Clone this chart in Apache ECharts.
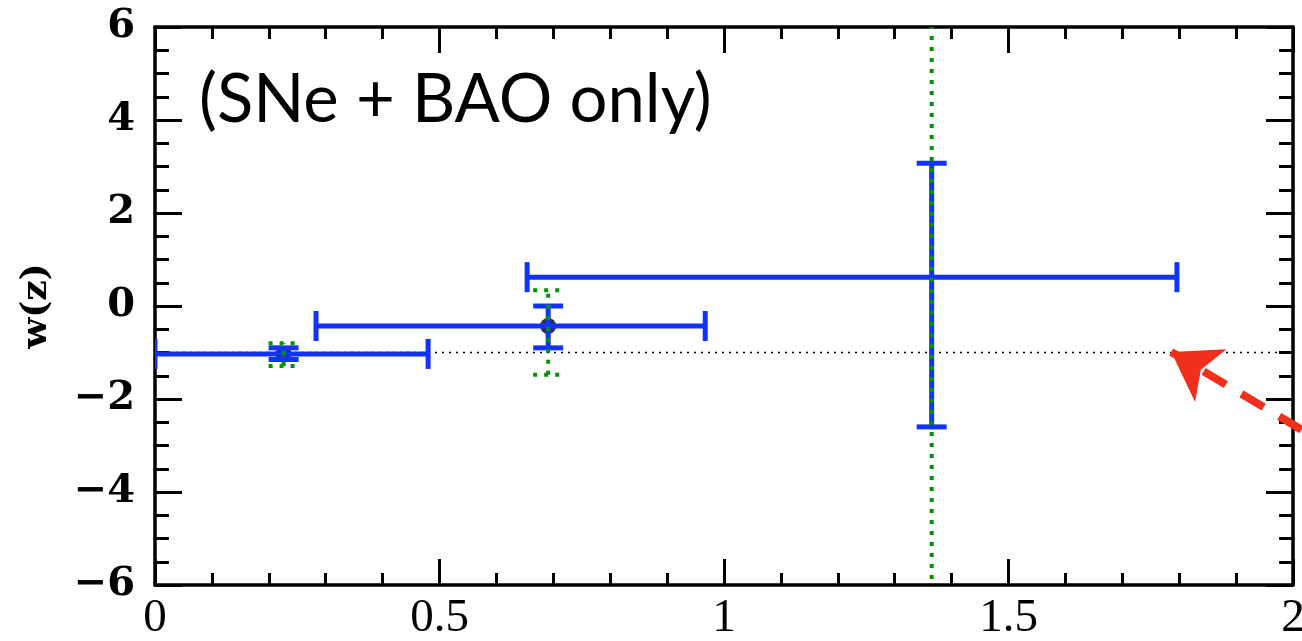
<!DOCTYPE html>
<html>
<head>
<meta charset="utf-8">
<script src="https://cdn.jsdelivr.net/npm/echarts@6/dist/echarts.min.js"></script>
<style>
html,body{margin:0;padding:0;background:#fff;}
#chart{width:1302px;height:641px;}
</style>
</head>
<body>
<div id="chart"></div>
<script>
// ---- data ----
const xCenter = [0.226, 0.691, 1.365];
const yCenter = [-1.03, -0.43, 0.62];
const xLow = [0.0, 0.283, 0.654];
const xHigh = [0.48, 0.967, 1.796];
const yLow = [-1.15, -0.90, -2.60];
const yHigh = [-0.90, 0.00, 3.07];
const greenLow = [-1.29, -1.48, -8.0];
const greenHigh = [-0.80, 0.34, 8.0];
const markerIndex = [0, 1];
const refW = -1;
const arrowTail = [2.015, -2.66];
const arrowHead = [1.786, -0.99];
const xTickLabels = {'0':'0','0.5':'0.5','1':'1','1.5':'1.5','2':'2'};
const titleText = '(SNe + BAO only)';
const yName = 'w(z)';

const blue = '#1233ff';
const green = '#009400';

const blueData = xCenter.map((x, i) => [x, yCenter[i], xLow[i], xHigh[i], yLow[i], yHigh[i]]);
const greenData = xCenter.map((x, i) => [x, greenLow[i], greenHigh[i]]);
const markerData = markerIndex.map(i => [xCenter[i], yCenter[i]]);

const CAP = 15;

function renderBlue(params, api) {
  const xc = api.value(0), yc = api.value(1);
  const pL = api.coord([api.value(2), yc]);
  const pR = api.coord([api.value(3), yc]);
  const pB = api.coord([xc, api.value(4)]);
  const pT = api.coord([xc, api.value(5)]);
  const st = {stroke: blue, lineWidth: 5, fill: null};
  const ln = (x1,y1,x2,y2) => ({type:'line', shape:{x1,y1,x2,y2}, style: st});
  return {type:'group', children:[
    ln(pL[0], pL[1], pR[0], pR[1]),
    ln(pL[0], pL[1]-CAP, pL[0], pL[1]+CAP),
    ln(pR[0], pR[1]-CAP, pR[0], pR[1]+CAP),
    ln(pB[0], pB[1], pT[0], pT[1]),
    ln(pB[0]-CAP, pB[1], pB[0]+CAP, pB[1]),
    ln(pT[0]-CAP, pT[1], pT[0]+CAP, pT[1])
  ]};
}

function renderGreen(params, api) {
  const xc = api.value(0);
  const pB = api.coord([xc, api.value(1)]);
  const pT = api.coord([xc, api.value(2)]);
  const st = {stroke: green, lineWidth: 4, fill: null, lineDash: [4, 7]};
  const ln = (x1,y1,x2,y2) => ({type:'line', shape:{x1,y1,x2,y2}, style: st});
  return {type:'group', children:[
    ln(pB[0], pB[1], pT[0], pT[1]),
    ln(pB[0]-CAP, pB[1], pB[0]+CAP, pB[1]),
    ln(pT[0]-CAP, pT[1], pT[0]+CAP, pT[1])
  ]};
}

const axisLine = {show: true, onZero: false, lineStyle: {color: '#000', width: 3.5}};
const tickStyle = {color: '#000', width: 3};

const chart = echarts.init(document.getElementById('chart'), null, {renderer: 'canvas'});
chart.setOption({
  animation: false,
  backgroundColor: '#fff',
  title: {
    text: titleText, left: 194, top: 62,
    textStyle: {fontFamily: 'Lato, "Open Sans", sans-serif', fontSize: 67, fontWeight: 'normal', color: '#000'}
  },
  grid: {left: 155, right: 9, top: 27, bottom: 56, show: false, containLabel: false, outerBoundsMode: 'none'},
  xAxis: [{
    type: 'value', min: 0, max: 2, interval: 0.5, position: 'bottom',
    axisLine: axisLine,
    axisTick: {show: true, inside: true, length: 26, lineStyle: tickStyle},
    minorTick: {show: true, splitNumber: 5, length: 12, lineStyle: tickStyle},
    splitLine: {show: false},
    axisLabel: {
      margin: 10, color: '#000', fontSize: 47,
      fontFamily: '"Liberation Serif", serif',
      formatter: v => xTickLabels[String(v)] ?? String(v)
    }
  }, {
    type: 'value', min: 0, max: 2, interval: 0.5, position: 'top',
    axisLine: axisLine,
    axisTick: {show: true, inside: true, length: 26, lineStyle: tickStyle},
    minorTick: {show: true, splitNumber: 5, length: 12, lineStyle: tickStyle},
    splitLine: {show: false}, axisLabel: {show: false}
  }],
  yAxis: [{
    type: 'value', min: -6, max: 6, interval: 2, position: 'left',
    name: yName, nameLocation: 'middle', nameGap: 100, nameRotate: 90,
    nameTextStyle: {fontFamily: '"DejaVu Serif", serif', fontWeight: 'bold', fontSize: 36, color: '#000'},
    axisLine: axisLine,
    axisTick: {show: true, inside: true, length: 27, lineStyle: tickStyle},
    minorTick: {show: true, splitNumber: 4, length: 14, lineStyle: tickStyle},
    splitLine: {show: false},
    axisLabel: {
      margin: 20, color: '#000', fontSize: 40, fontWeight: 'bold',
      fontFamily: '"DejaVu Serif", serif',
      formatter: v => (v < 0 ? '\u2212' + Math.abs(v) : String(v))
    }
  }, {
    type: 'value', min: -6, max: 6, interval: 2, position: 'right',
    axisLine: axisLine,
    axisTick: {show: true, inside: true, length: 27, lineStyle: tickStyle},
    minorTick: {show: true, splitNumber: 4, length: 14, lineStyle: tickStyle},
    splitLine: {show: false}, axisLabel: {show: false}
  }],
  series: [
    {
      type: 'line', data: [[0, refW], [2, refW]], showSymbol: false, symbol: 'none',
      lineStyle: {color: '#000', width: 1.5, type: [2, 5]}, z: 1, silent: true
    },
    {
      type: 'scatter', data: markerData, symbol: 'circle', symbolSize: 16,
      itemStyle: {color: '#000'}, z: 2
    },
    {
      type: 'custom', data: blueData, renderItem: renderBlue, clip: true, z: 3,
      encode: {x: [0, 2, 3], y: [1, 4, 5]}
    },
    {
      type: 'custom', data: greenData, renderItem: renderGreen, clip: true, z: 4,
      encode: {x: 0, y: [1, 2]}
    },
    {
      type: 'lines', coordinateSystem: 'cartesian2d', clip: false, z: 5,
      data: [{coords: [arrowTail, arrowHead]}],
      symbol: ['none', 'arrow'], symbolSize: [34, 46],
      lineStyle: {color: '#f0301c', width: 8, type: [26, 18], opacity: 1}
    }
  ]
});
</script>
</body>
</html>
